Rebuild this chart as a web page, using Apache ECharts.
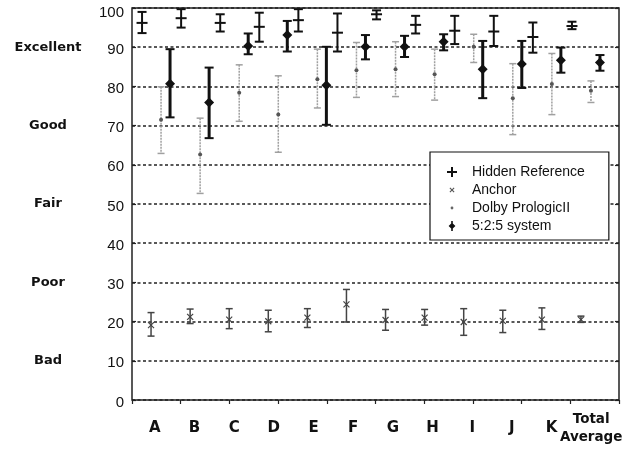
<!DOCTYPE html>
<html><head><meta charset="utf-8">
<script src="https://cdn.jsdelivr.net/npm/echarts@6/dist/echarts.min.js"></script>
<style>html,body{margin:0;padding:0;background:#fff}#c{width:636px;height:451px}</style>
</head><body><div id="c"></div>
<script>
const categories = ['A','B','C','D','E','F','G','H','I','J','K','Total\nAverage'];
const yTicks = [0,10,20,30,40,50,60,70,80,90,100];
const gradeLabels = {90:'Excellent',70:'Good',50:'Fair',30:'Poor',10:'Bad'};

const hrMean = [96.2, 97.4, 96.2, 95.2, 96.9, 93.7, 98.4, 95.7, 94.2, 94.0, 92.6, 95.4];
const hrLow  = [93.6, 95.0, 94.0, 91.4, 94.0, 88.9, 97.1, 93.5, 90.8, 90.3, 88.6, 94.6];
const hrHigh = [99.0, 99.7, 98.4, 98.8, 99.7, 98.6, 99.4, 98.0, 98.0, 98.0, 96.3, 96.5];

const anchorMean = [19.1, 21.2, 20.5, 20.1, 21.0, 24.4, 20.4, 21.0, 19.9, 20.2, 20.5, 20.5];
const anchorLow  = [16.3, 19.5, 18.2, 17.4, 18.5, 19.9, 17.8, 19.1, 16.5, 17.2, 18.0, 19.8];
const anchorHigh = [22.3, 23.2, 23.3, 22.9, 23.3, 28.2, 23.1, 23.1, 23.3, 22.9, 23.5, 21.4];

const dolbyMean = [71.5, 62.6, 78.4, 72.8, 81.8, 84.1, 84.4, 83.1, 90.1, 77.0, 80.6, 78.9];
const dolbyLow  = [62.9, 52.7, 71.1, 63.2, 74.5, 77.2, 77.4, 76.5, 86.1, 67.7, 72.8, 75.9];
const dolbyHigh = [79.9, 71.9, 85.5, 82.7, 89.5, 91.2, 91.4, 89.5, 93.3, 85.8, 88.4, 81.4];

const sysMean = [80.7, 75.9, 90.3, 93.1, 80.3, 90.1, 90.1, 91.4, 84.4, 85.7, 86.7, 86.1];
const sysLow  = [72.1, 66.8, 88.2, 88.9, 70.2, 86.9, 87.5, 89.2, 77.0, 79.6, 83.5, 84.0];
const sysHigh = [89.5, 84.8, 93.5, 96.7, 90.1, 93.1, 92.9, 93.3, 91.6, 91.6, 89.9, 88.0];

const FONT = '"Liberation Sans", Arial, sans-serif';
const BOLD = '"DejaVu Sans", "Liberation Sans", sans-serif';

function build(mean, low, high) {
  return categories.map((c, i) => [i, mean[i], low[i], high[i]]);
}

function makeRender(style) {
  return function (params, api) {
    const idx = api.value(0);
    const pM = api.coord([idx, api.value(1)]);
    const pL = api.coord([idx, api.value(2)]);
    const pH = api.coord([idx, api.value(3)]);
    const x = pM[0] + style.offset;
    const cw = style.cap / 2;
    const ls = { stroke: style.color, lineWidth: style.width, lineDash: style.dash || null };
    const cs = { stroke: style.color, lineWidth: style.capWidth || style.width };
    const children = [
      { type: 'line', shape: { x1: x, y1: pH[1], x2: x, y2: pL[1] }, style: ls },
      { type: 'line', shape: { x1: x - cw, y1: pH[1], x2: x + cw, y2: pH[1] }, style: cs },
      { type: 'line', shape: { x1: x - cw, y1: pL[1], x2: x + cw, y2: pL[1] }, style: cs }
    ];
    const y = pM[1];
    if (style.marker === 'plus') {
      children.push({ type: 'line', shape: { x1: x - 5.5, y1: y, x2: x + 5.5, y2: y }, style: { stroke: style.color, lineWidth: 2 } });
    } else if (style.marker === 'x') {
      children.push({ type: 'line', shape: { x1: x - 3, y1: y - 3, x2: x + 3, y2: y + 3 }, style: { stroke: style.color, lineWidth: 1.2 } });
      children.push({ type: 'line', shape: { x1: x - 3, y1: y + 3, x2: x + 3, y2: y - 3 }, style: { stroke: style.color, lineWidth: 1.2 } });
    } else if (style.marker === 'dot') {
      children.push({ type: 'circle', shape: { cx: x, cy: y, r: 2 }, style: { fill: '#555' } });
    } else if (style.marker === 'diamond') {
      children.push({ type: 'polygon', shape: { points: [[x, y - 5], [x + 5, y], [x, y + 5], [x - 5, y]] }, style: { fill: style.color } });
    }
    return { type: 'group', children: children };
  };
}

const hiddenAxis = { axisLine: { show: false }, axisTick: { show: false }, axisLabel: { show: false }, splitLine: { show: false } };

const chart = echarts.init(document.getElementById('c'), null, { renderer: 'canvas' });
chart.setOption({
  backgroundColor: '#fff',
  animation: false,
  textStyle: { fontFamily: FONT },
  grid: [
    { left: 132, right: 17, top: 8, bottom: 51, show: true, borderColor: '#222', borderWidth: 1.5, backgroundColor: 'transparent' },
    { left: 136.5, right: 30.5, top: 8, bottom: 51 },
    { left: 135, right: 25, top: 8, bottom: 51 }
  ],
  legend: {
    orient: 'vertical', left: 430, top: 152,
    backgroundColor: '#fff', borderColor: '#111', borderWidth: 1.2,
    padding: [13, 24, 7, 17], itemGap: 4, itemWidth: 20, itemHeight: 10,
    textStyle: { fontFamily: FONT, fontSize: 14, color: '#111' },
    data: [
      { name: 'Hidden Reference', icon: 'path://M0,0M20,10M4,0H6V4H10V6H6V10H4V6H0V4H4Z' },
      { name: 'Anchor', icon: 'path://M0,0M20,10M2.5,3.3L3.3,2.5L5,4.2L6.7,2.5L7.5,3.3L5.8,5L7.5,6.7L6.7,7.5L5,5.8L3.3,7.5L2.5,6.7L4.2,5Z' },
      { name: 'Dolby PrologicII', icon: 'path://M0,0M20,10M5,3.6A1.4,1.4,0,1,1,5,6.4A1.4,1.4,0,1,1,5,3.6Z' },
      { name: '5:2:5 system', icon: 'path://M0,0M20,10M4.2,0H5.8V2.6L8.4,5L5.8,7.4V10H4.2V7.4L1.6,5L4.2,2.6Z' }
    ]
  },
  xAxis: [
    { gridIndex: 0, type: 'value', position: 'top', min: 0, max: 10, interval: 1,
      axisLine: { show: false }, axisLabel: { show: false }, splitLine: { show: false },
      axisTick: { show: true, inside: true, length: 4, lineStyle: { color: '#222', width: 1.2 } } },
    Object.assign({ gridIndex: 1, type: 'category', data: categories }, hiddenAxis),
    { gridIndex: 2, type: 'category', data: categories,
      axisLine: { show: false }, axisTick: { show: false }, splitLine: { show: false },
      axisLabel: {
        interval: 0, margin: 28, verticalAlign: 'middle', color: '#111',
        fontFamily: BOLD, fontWeight: 'bold', fontSize: 15,
        formatter: function (v) { return v.indexOf('\n') >= 0 ? '{s|' + v + '}' : v; },
        rich: { s: { fontFamily: BOLD, fontWeight: 'bold', fontSize: 13.5, lineHeight: 18, color: '#111', align: 'center' } }
      } }
  ],
  yAxis: [
    {
      gridIndex: 0, type: 'value', min: 0, max: 100, interval: 10,
      axisLine: { show: false },
      axisTick: { show: true, inside: true, length: 4, lineStyle: { color: '#222', width: 1.2 } },
      axisLabel: { color: '#111', fontFamily: FONT, fontSize: 15, margin: 8,
        formatter: function (v) { return yTicks.indexOf(v) >= 0 ? (v === 100 ? '{t|100}' : '{n|' + v + '}') : ''; },
        rich: { t: { fontFamily: FONT, fontSize: 15, color: '#111', padding: [10, 0, 0, 0] },
                n: { fontFamily: FONT, fontSize: 15, color: '#111', padding: [5, 0, 0, 0] } } },
      splitLine: { show: true, lineStyle: { color: '#222', type: [3, 2.5], width: 1.5 } }
    },
    {
      gridIndex: 0, type: 'value', min: 0, max: 100, interval: 10, position: 'left',
      axisLine: { show: false }, axisTick: { show: false }, splitLine: { show: false },
      axisLabel: { color: '#111', fontFamily: BOLD, fontSize: 13, fontWeight: 'bold', margin: 84, align: 'center',
        formatter: function (v) { return gradeLabels[v] || ''; } }
    },
    {
      gridIndex: 0, type: 'value', min: 0, max: 100, interval: 10, position: 'right',
      axisLine: { show: false }, splitLine: { show: false }, axisLabel: { show: false },
      axisTick: { show: true, inside: true, length: 4, lineStyle: { color: '#222', width: 1.2 } }
    },
    Object.assign({ gridIndex: 1, type: 'value', min: 0, max: 100 }, hiddenAxis),
    Object.assign({ gridIndex: 2, type: 'value', min: 0, max: 100 }, hiddenAxis)
  ],
  series: [
    { name: 'Hidden Reference', type: 'custom', xAxisIndex: 1, yAxisIndex: 3, itemStyle: { color: '#111' },
      encode: { x: 0, y: [1, 2, 3] }, data: build(hrMean, hrLow, hrHigh),
      renderItem: makeRender({ offset: -14, color: '#111', width: 2, cap: 9, marker: 'plus' }) },
    { name: 'Anchor', type: 'custom', xAxisIndex: 1, yAxisIndex: 3, itemStyle: { color: '#555' },
      encode: { x: 0, y: [1, 2, 3] }, data: build(anchorMean, anchorLow, anchorHigh),
      renderItem: makeRender({ offset: -5, color: '#444', width: 1.5, cap: 7, marker: 'x' }) },
    { name: 'Dolby PrologicII', type: 'custom', xAxisIndex: 1, yAxisIndex: 3, itemStyle: { color: '#666' },
      encode: { x: 0, y: [1, 2, 3] }, data: build(dolbyMean, dolbyLow, dolbyHigh),
      renderItem: makeRender({ offset: 5, color: '#a0a0a0', width: 1.5, cap: 7, marker: 'dot', dash: [2, 1] }) },
    { name: '5:2:5 system', type: 'custom', xAxisIndex: 1, yAxisIndex: 3, itemStyle: { color: '#111' },
      encode: { x: 0, y: [1, 2, 3] }, data: build(sysMean, sysLow, sysHigh),
      renderItem: makeRender({ offset: 14, color: '#111', width: 3, cap: 9, capWidth: 2, marker: 'diamond' }) }
  ]
});
</script></body></html>
